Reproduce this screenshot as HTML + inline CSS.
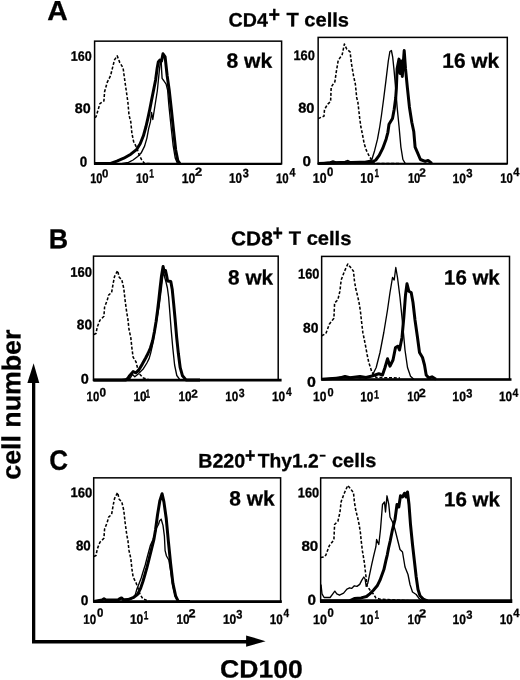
<!DOCTYPE html>
<html lang="en"><head><meta charset="utf-8"><title>CD100 expression</title>
<style>html,body{margin:0;padding:0;background:#fff}body{width:520px;height:680px;overflow:hidden}</style>
</head><body>
<svg width="520" height="680" viewBox="0 0 520 680" style="display:block;will-change:transform" text-rendering="geometricPrecision">
<rect width="520" height="680" fill="#fff"/>
<rect x="94.6" y="41.15" width="187.00000000000003" height="122.65" fill="none" stroke="#000" stroke-width="1.5"/>
<line x1="94.0" y1="163.8" x2="281.6" y2="163.8" stroke="#000" stroke-width="2.3"/>
<polyline points="94.8,117.5 96.0,116.9 98.0,110.3 99.9,103.6 103.9,101.0 104.6,91.7 107.2,82.4 110.5,75.8 112.5,67.9 114.5,59.9 117.2,55.9 119.8,62.6 123.1,67.9 124.5,78.5 126.4,91.7 127.9,102.3 129.0,115.0 130.8,121.9 131.9,133.4 133.6,141.5 136.5,147.3 139.4,155.4 141.7,160.0 144.6,163.6 150.5,163.6" fill="none" stroke="#000" stroke-width="1.55" stroke-linejoin="round" stroke-linecap="butt" stroke-dasharray="3 1.8"/>
<polyline points="112.0,163.6 121.5,163.6 128.5,162.3 133.1,160.0 137.7,156.5 141.1,153.1 144.6,146.1 146.9,138.1 148.6,128.8 150.4,121.9 151.6,112.5 152.8,119.5 154.6,108.0 157.3,91.0 159.0,74.0 160.3,62.0 161.2,60.5 161.6,70.0 162.1,78.4 164.0,81.0 166.1,84.2 167.6,90.0 168.9,105.6 171.0,126.0 173.2,146.0 175.2,158.0 177.5,163.6" fill="none" stroke="#000" stroke-width="1.35" stroke-linejoin="round" stroke-linecap="butt"/>
<polyline points="94.5,163.6 105.0,163.6 110.0,163.6 116.9,161.1 123.8,158.2 130.8,154.2 136.5,149.6 140.2,143.8 143.4,135.8 146.0,126.5 148.1,117.3 149.8,109.2 151.5,100.5 153.6,90.0 155.6,80.0 157.2,68.0 158.3,62.0 159.8,60.1 161.5,61.2 163.0,53.8 165.1,56.9 167.2,76.0 169.3,90.8 171.4,109.8 173.6,131.0 175.7,150.0 177.8,160.6 179.9,163.6" fill="none" stroke="#000" stroke-width="3.0" stroke-linejoin="round" stroke-linecap="butt"/>
<rect x="318.15" y="37.4" width="189.15000000000003" height="126.29999999999998" fill="none" stroke="#000" stroke-width="1.5"/>
<line x1="317.54999999999995" y1="163.7" x2="507.3" y2="163.7" stroke="#000" stroke-width="2.0"/>
<polyline points="318.2,118.6 324.0,116.1 324.5,109.5 327.6,104.2 330.6,101.6 331.2,87.0 334.9,81.7 336.2,72.4 338.2,60.5 342.2,54.6 344.4,44.0 346.8,49.3 350.1,51.9 351.4,63.2 353.4,75.1 355.4,84.4 356.7,97.6 357.9,102.3 359.6,117.3 360.8,126.5 362.5,134.6 364.2,143.8 366.5,150.7 369.4,156.5 371.7,160.0 374.6,163.4 399.0,163.4" fill="none" stroke="#000" stroke-width="1.55" stroke-linejoin="round" stroke-linecap="butt" stroke-dasharray="3 1.8"/>
<polyline points="318.0,163.4 330.0,162.0 333.0,161.0 336.0,162.0 345.0,161.5 348.0,160.5 351.0,162.0 365.0,161.7 371.7,160.0 374.6,150.7 377.5,139.2 379.8,126.5 381.5,115.0 383.5,100.0 386.0,80.2 388.3,61.0 389.9,51.5 391.4,50.5 392.7,57.2 394.1,70.6 395.6,87.8 397.1,106.9 399.0,126.0 400.9,147.1 402.9,159.5 405.2,163.4" fill="none" stroke="#000" stroke-width="1.35" stroke-linejoin="round" stroke-linecap="butt"/>
<polyline points="318.0,163.4 360.0,162.2 368.0,162.0 373.0,161.5 375.8,160.0 379.2,155.4 382.7,148.4 386.1,139.2 387.9,132.3 389.0,124.2 392.5,118.5 394.2,109.2 395.7,98.0 396.4,87.8 397.1,68.7 399.0,59.1 400.0,73.5 401.3,61.0 402.3,76.4 404.2,50.5 405.5,68.7 407.4,87.8 409.4,106.9 411.8,122.2 413.8,131.8 415.1,147.1 417.6,152.8 420.4,159.5 425.2,161.4 428.1,160.5 431.9,163.4" fill="none" stroke="#000" stroke-width="3.0" stroke-linejoin="round" stroke-linecap="butt"/>
<rect x="93.5" y="256.15" width="184.7" height="124.05000000000001" fill="none" stroke="#000" stroke-width="1.5"/>
<line x1="92.9" y1="380.2" x2="281.59999999999997" y2="380.2" stroke="#000" stroke-width="2.7"/>
<polyline points="93.8,334.5 96.0,333.5 97.3,326.9 99.9,320.3 103.9,316.3 104.6,307.0 107.2,300.4 108.6,295.1 111.6,292.5 113.2,283.2 114.5,276.6 117.6,270.6 119.2,277.2 121.8,279.9 123.8,288.5 125.1,300.4 126.7,312.3 127.9,319.2 129.0,329.5 130.8,337.6 131.9,348.0 133.1,357.2 136.0,361.8 137.7,368.7 140.0,374.5 143.4,378.0 150.0,379.9" fill="none" stroke="#000" stroke-width="1.55" stroke-linejoin="round" stroke-linecap="butt" stroke-dasharray="3 1.8"/>
<polyline points="120.0,379.9 130.0,378.5 132.5,374.5 134.8,376.8 138.8,373.4 143.4,368.7 146.9,363.0 149.2,358.4 150.8,352.6 152.7,344.0 155.7,326.0 159.0,307.0 161.2,290.0 162.7,277.0 163.6,271.0 164.6,277.0 166.0,282.0 167.4,288.0 168.6,297.0 169.8,312.0 171.2,330.0 172.8,348.0 174.6,365.0 176.8,375.5 180.0,379.9" fill="none" stroke="#000" stroke-width="1.35" stroke-linejoin="round" stroke-linecap="butt"/>
<polyline points="93.8,379.9 126.0,379.9 128.0,378.0 129.6,375.7 133.1,371.6 136.0,372.8 138.8,369.9 142.3,364.1 145.8,357.8 148.0,353.5 150.4,348.0 152.7,340.5 154.4,331.8 156.1,321.5 157.5,311.0 158.8,300.0 160.1,288.0 161.5,276.0 163.1,266.5 164.3,272.0 165.5,270.5 166.5,275.0 167.6,281.0 170.8,281.5 172.2,289.2 173.6,303.1 175.1,319.2 176.7,337.7 178.4,353.8 180.2,367.7 182.5,375.8 186.0,379.9 200.0,379.9" fill="none" stroke="#000" stroke-width="3.0" stroke-linejoin="round" stroke-linecap="butt"/>
<rect x="321.65" y="256.4" width="187.85000000000002" height="123.10000000000002" fill="none" stroke="#000" stroke-width="1.5"/>
<line x1="321.04999999999995" y1="379.5" x2="511.5" y2="379.5" stroke="#000" stroke-width="2.6"/>
<polyline points="321.7,335.8 325.9,333.5 329.3,324.2 333.9,318.3 334.6,303.0 337.9,299.7 339.9,291.1 341.2,279.9 344.5,271.2 347.8,264.0 350.5,267.3 353.5,271.2 354.4,280.5 355.7,288.5 357.7,296.4 359.1,303.0 360.4,311.0 361.4,320.3 362.8,332.2 364.4,340.1 365.7,346.7 367.2,355.0 368.8,362.5 372.0,372.5 376.2,377.5 400.0,378.0" fill="none" stroke="#000" stroke-width="1.55" stroke-linejoin="round" stroke-linecap="butt" stroke-dasharray="3 1.8"/>
<polyline points="321.8,379.2 335.0,378.0 340.0,376.8 345.0,378.0 355.0,377.0 360.0,378.0 368.0,377.0 372.5,375.0 376.2,367.5 380.0,352.5 383.8,332.5 387.5,310.0 390.0,292.5 392.5,277.5 394.2,280.0 395.8,267.5 397.5,277.5 400.0,297.5 402.5,322.5 405.0,350.0 407.5,367.5 410.5,376.2 413.8,379.2" fill="none" stroke="#000" stroke-width="1.35" stroke-linejoin="round" stroke-linecap="butt"/>
<polyline points="321.8,379.2 340.0,378.0 345.0,376.5 350.0,377.8 360.0,376.5 366.0,377.5 372.0,376.0 378.8,373.8 382.5,375.0 385.0,367.5 387.5,358.8 390.0,366.2 393.0,360.0 395.5,347.5 398.0,346.2 399.5,350.0 402.0,337.5 403.8,317.5 405.5,295.0 407.0,283.8 408.8,291.2 411.2,292.5 413.0,302.5 415.0,320.0 417.5,337.5 419.5,352.5 422.5,357.5 424.5,365.0 426.2,375.0 428.8,378.0 432.0,376.8 436.0,379.2" fill="none" stroke="#000" stroke-width="3.0" stroke-linejoin="round" stroke-linecap="butt"/>
<rect x="93.7" y="477.85" width="186.90000000000003" height="123.75" fill="none" stroke="#000" stroke-width="1.5"/>
<line x1="93.10000000000001" y1="601.6" x2="281.8" y2="601.6" stroke="#000" stroke-width="2.7"/>
<polyline points="93.9,556.5 96.0,555.5 97.3,548.9 99.9,542.3 103.9,538.3 104.6,529.0 107.2,522.4 108.6,517.1 111.6,514.5 113.2,505.2 114.5,498.6 117.6,492.6 119.2,499.2 121.8,501.9 123.8,510.5 125.1,522.4 126.7,534.3 127.9,540.5 129.0,550.4 130.8,558.5 131.9,568.8 133.1,576.9 136.0,582.7 137.7,587.3 140.0,594.2 142.9,598.8 149.5,601.4" fill="none" stroke="#000" stroke-width="1.55" stroke-linejoin="round" stroke-linecap="butt" stroke-dasharray="3 1.8"/>
<polyline points="125.0,601.4 131.0,599.0 134.8,596.5 136.7,589.6 139.0,583.8 141.2,578.0 143.3,571.0 145.2,565.0 147.0,558.0 148.6,552.0 150.5,545.0 152.8,540.0 154.8,534.4 156.5,528.0 158.5,524.5 159.5,521.0 161.2,519.1 162.0,522.0 163.0,525.4 164.4,536.2 165.1,550.7 166.5,556.0 168.8,560.0 170.8,572.0 172.8,586.0 175.5,597.0 178.0,601.4" fill="none" stroke="#000" stroke-width="1.35" stroke-linejoin="round" stroke-linecap="butt"/>
<polyline points="93.8,601.4 102.0,600.0 104.0,598.8 106.0,600.0 118.0,600.0 120.0,598.6 121.5,597.9 123.5,599.8 128.0,599.6 133.1,597.7 137.7,594.2 140.6,588.4 142.9,581.5 144.6,575.8 146.9,567.7 149.2,558.5 151.5,549.2 153.8,540.0 155.5,530.0 157.5,515.0 159.8,501.0 162.1,493.8 163.9,501.9 166.2,518.2 168.4,541.7 170.6,563.4 172.9,583.3 175.6,595.9 178.3,601.4 190.0,601.4" fill="none" stroke="#000" stroke-width="3.0" stroke-linejoin="round" stroke-linecap="butt"/>
<rect x="320.65" y="477.9" width="190.45000000000005" height="123.30000000000007" fill="none" stroke="#000" stroke-width="1.5"/>
<line x1="320.04999999999995" y1="601.2" x2="512.3000000000001" y2="601.2" stroke="#000" stroke-width="3.7"/>
<polyline points="320.7,557.6 324.3,557.0 325.9,555.0 329.3,545.7 333.9,539.8 334.6,524.5 337.9,521.2 339.9,512.6 341.2,501.4 344.5,492.7 347.8,485.4 350.5,488.8 353.5,492.7 354.4,502.0 355.7,510.0 357.7,517.9 359.1,524.5 360.4,532.5 361.1,540.0 362.4,550.8 364.4,562.9 365.8,575.0 367.1,585.8 369.8,589.8 373.2,593.8 375.9,597.9 379.9,599.2 388.0,599.6 415.0,601.0" fill="none" stroke="#000" stroke-width="1.55" stroke-linejoin="round" stroke-linecap="butt" stroke-dasharray="3 1.8"/>
<polyline points="321.0,584.5 322.0,593.8 324.1,597.5 330.1,597.5 332.8,593.8 334.8,591.1 336.8,593.8 339.5,595.2 343.6,593.2 346.9,589.1 349.6,587.8 351.6,588.4 354.3,585.8 357.0,586.4 359.7,584.4 361.7,580.4 363.8,577.0 365.1,579.0 366.2,586.4 367.8,583.1 369.8,573.6 371.8,564.2 373.9,554.8 375.9,546.7 376.6,539.5 378.8,544.5 380.5,529.5 382.5,504.5 384.5,502.0 385.5,512.0 387.0,495.8 388.8,504.5 390.0,517.0 392.5,522.0 395.0,529.5 397.5,539.5 400.0,549.5 402.5,552.0 405.0,567.0 408.0,574.5 410.0,584.5 412.5,592.0 416.2,594.5 418.8,598.2 422.5,601.0" fill="none" stroke="#000" stroke-width="1.35" stroke-linejoin="round" stroke-linecap="butt"/>
<polyline points="320.5,601.0 349.0,601.0 354.3,598.6 361.1,597.9 366.5,596.5 369.8,593.8 373.2,590.5 377.2,585.8 379.9,580.4 381.9,575.0 383.9,569.6 386.0,560.2 387.3,554.8 388.6,548.0 390.2,541.0 392.5,529.5 395.0,519.5 397.0,504.5 398.8,507.0 400.5,495.8 402.5,497.0 404.5,493.2 406.0,497.0 407.5,492.0 409.0,504.5 410.5,524.5 412.5,544.5 414.5,562.0 416.2,577.0 418.0,589.5 420.0,595.8 423.8,599.5 427.5,601.0" fill="none" stroke="#000" stroke-width="3.0" stroke-linejoin="round" stroke-linecap="butt"/>
<text transform="translate(47.29,19.97) rotate(0.1) scale(1.0517,1.0221)" font-family='"Liberation Sans", sans-serif' font-size="27" font-weight="bold" fill="#000" stroke="#000" stroke-width="0.3">A</text>
<text transform="translate(48.87,248.23) rotate(0.1) scale(0.9937,1.0100)" font-family='"Liberation Sans", sans-serif' font-size="27" font-weight="bold" fill="#000" stroke="#000" stroke-width="0.3">B</text>
<text transform="translate(49.24,469.77) rotate(0.1) scale(0.9629,1.0357)" font-family='"Liberation Sans", sans-serif' font-size="27" font-weight="bold" fill="#000" stroke="#000" stroke-width="0.3">C</text>
<text transform="translate(228.59,26.46) rotate(0.1) scale(1.0007,0.9896)" font-family='"Liberation Sans", sans-serif' font-size="19.6" font-weight="bold" fill="#000" stroke="#000" stroke-width="0.3">CD4</text>
<text transform="translate(268.42,21.63) rotate(0.1) scale(1.0315,1.1445)" font-family='"Liberation Sans", sans-serif' font-size="19" font-weight="bold" fill="#000" stroke="#000" stroke-width="0.3">+</text>
<text transform="translate(286.53,26.32) rotate(0.1) scale(1.0235,0.9858)" font-family='"Liberation Sans", sans-serif' font-size="19.6" font-weight="bold" fill="#000" stroke="#000" stroke-width="0.3">T cells</text>
<text transform="translate(231.07,245.20) rotate(0.1) scale(1.0638,1.0153)" font-family='"Liberation Sans", sans-serif' font-size="19.6" font-weight="bold" fill="#000" stroke="#000" stroke-width="0.3">CD8</text>
<text transform="translate(272.53,240.27) rotate(0.1) scale(0.9246,1.1517)" font-family='"Liberation Sans", sans-serif' font-size="19" font-weight="bold" fill="#000" stroke="#000" stroke-width="0.3">+</text>
<text transform="translate(288.80,244.82) rotate(0.1) scale(1.0257,0.9911)" font-family='"Liberation Sans", sans-serif' font-size="19.6" font-weight="bold" fill="#000" stroke="#000" stroke-width="0.3">T cells</text>
<text transform="translate(198.24,467.50) rotate(0.1) scale(1.0022,1.0014)" font-family='"Liberation Sans", sans-serif' font-size="19.6" font-weight="bold" fill="#000" stroke="#000" stroke-width="0.3">B220</text>
<text transform="translate(244.97,462.55) rotate(0.1) scale(0.9389,1.1091)" font-family='"Liberation Sans", sans-serif' font-size="19" font-weight="bold" fill="#000" stroke="#000" stroke-width="0.3">+</text>
<text transform="translate(257.71,467.29) rotate(0.1) scale(0.9826,0.9923)" font-family='"Liberation Sans", sans-serif' font-size="19.6" font-weight="bold" fill="#000" stroke="#000" stroke-width="0.3">Thy1.2</text>
<text transform="translate(319.43,460.02) rotate(0.1) scale(0.8945,1.0793)" font-family='"Liberation Sans", sans-serif' font-size="12" font-weight="bold" fill="#000" stroke="#000" stroke-width="0.3">−</text>
<text transform="translate(331.94,466.99) rotate(0.1) scale(1.0182,0.9932)" font-family='"Liberation Sans", sans-serif' font-size="19.6" font-weight="bold" fill="#000" stroke="#000" stroke-width="0.3">cells</text>
<text transform="translate(226.42,67.80) rotate(0.1) scale(1.0034,0.9848)" font-family='"Liberation Sans", sans-serif' font-size="21" font-weight="bold" fill="#000" stroke="#000" stroke-width="0.3">8 wk</text>
<text transform="translate(442.34,67.75) rotate(0.1) scale(0.9943,0.9833)" font-family='"Liberation Sans", sans-serif' font-size="21" font-weight="bold" fill="#000" stroke="#000" stroke-width="0.3">16 wk</text>
<text transform="translate(228.10,284.45) rotate(0.1) scale(0.9865,0.9874)" font-family='"Liberation Sans", sans-serif' font-size="21" font-weight="bold" fill="#000" stroke="#000" stroke-width="0.3">8 wk</text>
<text transform="translate(444.02,284.39) rotate(0.1) scale(0.9738,0.9853)" font-family='"Liberation Sans", sans-serif' font-size="21" font-weight="bold" fill="#000" stroke="#000" stroke-width="0.3">16 wk</text>
<text transform="translate(229.26,505.55) rotate(0.1) scale(0.9953,0.9870)" font-family='"Liberation Sans", sans-serif' font-size="21" font-weight="bold" fill="#000" stroke="#000" stroke-width="0.3">8 wk</text>
<text transform="translate(444.01,506.19) rotate(0.1) scale(0.9757,0.9765)" font-family='"Liberation Sans", sans-serif' font-size="21" font-weight="bold" fill="#000" stroke="#000" stroke-width="0.3">16 wk</text>
<text transform="translate(70.77,60.67) rotate(0.1) scale(0.8971,0.9751)" font-family='"Liberation Sans", sans-serif' font-size="14" font-weight="bold" fill="#000" stroke="#000" stroke-width="0.3">160</text>
<text transform="translate(74.83,112.96) rotate(0.1) scale(1.0195,0.9922)" font-family='"Liberation Sans", sans-serif' font-size="14" font-weight="bold" fill="#000" stroke="#000" stroke-width="0.3">80</text>
<text transform="translate(79.66,166.62) rotate(0.1) scale(0.9542,1.0137)" font-family='"Liberation Sans", sans-serif' font-size="14" font-weight="bold" fill="#000" stroke="#000" stroke-width="0.3">0</text>
<text transform="translate(293.40,59.92) rotate(0.1) scale(0.9137,0.9839)" font-family='"Liberation Sans", sans-serif' font-size="14" font-weight="bold" fill="#000" stroke="#000" stroke-width="0.3">160</text>
<text transform="translate(298.24,112.62) rotate(0.1) scale(1.0419,0.9964)" font-family='"Liberation Sans", sans-serif' font-size="14" font-weight="bold" fill="#000" stroke="#000" stroke-width="0.3">80</text>
<text transform="translate(302.60,165.99) rotate(0.1) scale(1.0849,1.0144)" font-family='"Liberation Sans", sans-serif' font-size="14" font-weight="bold" fill="#000" stroke="#000" stroke-width="0.3">0</text>
<text transform="translate(70.27,276.69) rotate(0.1) scale(0.9315,0.9934)" font-family='"Liberation Sans", sans-serif' font-size="14" font-weight="bold" fill="#000" stroke="#000" stroke-width="0.3">160</text>
<text transform="translate(76.81,329.20) rotate(0.1) scale(0.9774,0.9868)" font-family='"Liberation Sans", sans-serif' font-size="14" font-weight="bold" fill="#000" stroke="#000" stroke-width="0.3">80</text>
<text transform="translate(80.81,383.48) rotate(0.1) scale(1.0319,0.9884)" font-family='"Liberation Sans", sans-serif' font-size="14" font-weight="bold" fill="#000" stroke="#000" stroke-width="0.3">0</text>
<text transform="translate(298.09,278.52) rotate(0.1) scale(0.9153,0.9993)" font-family='"Liberation Sans", sans-serif' font-size="14" font-weight="bold" fill="#000" stroke="#000" stroke-width="0.3">160</text>
<text transform="translate(303.11,332.53) rotate(0.1) scale(0.9919,0.9873)" font-family='"Liberation Sans", sans-serif' font-size="14" font-weight="bold" fill="#000" stroke="#000" stroke-width="0.3">80</text>
<text transform="translate(307.08,386.76) rotate(0.1) scale(1.1379,1.0151)" font-family='"Liberation Sans", sans-serif' font-size="14" font-weight="bold" fill="#000" stroke="#000" stroke-width="0.3">0</text>
<text transform="translate(70.38,497.12) rotate(0.1) scale(0.9360,0.9787)" font-family='"Liberation Sans", sans-serif' font-size="14" font-weight="bold" fill="#000" stroke="#000" stroke-width="0.3">160</text>
<text transform="translate(75.90,550.24) rotate(0.1) scale(0.9506,0.9868)" font-family='"Liberation Sans", sans-serif' font-size="14" font-weight="bold" fill="#000" stroke="#000" stroke-width="0.3">80</text>
<text transform="translate(80.66,604.89) rotate(0.1) scale(0.9801,0.9916)" font-family='"Liberation Sans", sans-serif' font-size="14" font-weight="bold" fill="#000" stroke="#000" stroke-width="0.3">0</text>
<text transform="translate(297.84,497.14) rotate(0.1) scale(0.9125,0.9823)" font-family='"Liberation Sans", sans-serif' font-size="14" font-weight="bold" fill="#000" stroke="#000" stroke-width="0.3">160</text>
<text transform="translate(301.39,550.80) rotate(0.1) scale(1.0790,1.0088)" font-family='"Liberation Sans", sans-serif' font-size="14" font-weight="bold" fill="#000" stroke="#000" stroke-width="0.3">80</text>
<text transform="translate(307.45,604.68) rotate(0.1) scale(1.0871,1.0232)" font-family='"Liberation Sans", sans-serif' font-size="14" font-weight="bold" fill="#000" stroke="#000" stroke-width="0.3">0</text>
<text transform="translate(90.18,182.90) rotate(0.1) scale(0.7873,0.9906)" font-family='"Liberation Sans", sans-serif' font-size="14" font-weight="bold" fill="#000" stroke="#000" stroke-width="0.3">10</text>
<text transform="translate(101.92,177.39) rotate(0.1) scale(0.9892,1.0164)" font-family='"Liberation Sans", sans-serif' font-size="11.5" font-weight="bold" fill="#000" stroke="#000" stroke-width="0.3">0</text>
<text transform="translate(136.02,182.69) rotate(0.1) scale(0.8122,0.9670)" font-family='"Liberation Sans", sans-serif' font-size="14" font-weight="bold" fill="#000" stroke="#000" stroke-width="0.3">10</text>
<text transform="translate(149.34,177.47) rotate(0.1) scale(0.7304,1.0535)" font-family='"Liberation Sans", sans-serif' font-size="11.5" font-weight="bold" fill="#000" stroke="#000" stroke-width="0.3">1</text>
<text transform="translate(181.66,182.89) rotate(0.1) scale(0.8678,0.9915)" font-family='"Liberation Sans", sans-serif' font-size="14" font-weight="bold" fill="#000" stroke="#000" stroke-width="0.3">10</text>
<text transform="translate(195.08,175.71) rotate(0.1) scale(1.1187,1.0198)" font-family='"Liberation Sans", sans-serif' font-size="11.5" font-weight="bold" fill="#000" stroke="#000" stroke-width="0.3">2</text>
<text transform="translate(228.98,182.72) rotate(0.1) scale(0.8352,0.9987)" font-family='"Liberation Sans", sans-serif' font-size="14" font-weight="bold" fill="#000" stroke="#000" stroke-width="0.3">10</text>
<text transform="translate(242.76,177.20) rotate(0.1) scale(0.9458,1.0729)" font-family='"Liberation Sans", sans-serif' font-size="11.5" font-weight="bold" fill="#000" stroke="#000" stroke-width="0.3">3</text>
<text transform="translate(275.98,183.01) rotate(0.1) scale(0.8173,0.9935)" font-family='"Liberation Sans", sans-serif' font-size="14" font-weight="bold" fill="#000" stroke="#000" stroke-width="0.3">10</text>
<text transform="translate(289.51,176.17) rotate(0.1) scale(0.9219,1.0389)" font-family='"Liberation Sans", sans-serif' font-size="11.5" font-weight="bold" fill="#000" stroke="#000" stroke-width="0.3">4</text>
<text transform="translate(312.85,182.81) rotate(0.1) scale(0.8738,0.9960)" font-family='"Liberation Sans", sans-serif' font-size="14" font-weight="bold" fill="#000" stroke="#000" stroke-width="0.3">10</text>
<text transform="translate(326.93,175.92) rotate(0.1) scale(0.9856,1.0568)" font-family='"Liberation Sans", sans-serif' font-size="11.5" font-weight="bold" fill="#000" stroke="#000" stroke-width="0.3">0</text>
<text transform="translate(360.34,182.81) rotate(0.1) scale(0.8399,0.9899)" font-family='"Liberation Sans", sans-serif' font-size="14" font-weight="bold" fill="#000" stroke="#000" stroke-width="0.3">10</text>
<text transform="translate(374.45,176.93) rotate(0.1) scale(0.7090,1.0132)" font-family='"Liberation Sans", sans-serif' font-size="11.5" font-weight="bold" fill="#000" stroke="#000" stroke-width="0.3">1</text>
<text transform="translate(407.90,182.80) rotate(0.1) scale(0.7963,0.9840)" font-family='"Liberation Sans", sans-serif' font-size="14" font-weight="bold" fill="#000" stroke="#000" stroke-width="0.3">10</text>
<text transform="translate(419.24,176.59) rotate(0.1) scale(1.0252,1.0245)" font-family='"Liberation Sans", sans-serif' font-size="11.5" font-weight="bold" fill="#000" stroke="#000" stroke-width="0.3">2</text>
<text transform="translate(452.44,182.95) rotate(0.1) scale(0.8610,0.9645)" font-family='"Liberation Sans", sans-serif' font-size="14" font-weight="bold" fill="#000" stroke="#000" stroke-width="0.3">10</text>
<text transform="translate(466.31,177.21) rotate(0.1) scale(0.9845,1.0511)" font-family='"Liberation Sans", sans-serif' font-size="11.5" font-weight="bold" fill="#000" stroke="#000" stroke-width="0.3">3</text>
<text transform="translate(500.21,182.85) rotate(0.1) scale(0.8102,0.9733)" font-family='"Liberation Sans", sans-serif' font-size="14" font-weight="bold" fill="#000" stroke="#000" stroke-width="0.3">10</text>
<text transform="translate(513.14,175.88) rotate(0.1) scale(0.9693,1.0389)" font-family='"Liberation Sans", sans-serif' font-size="11.5" font-weight="bold" fill="#000" stroke="#000" stroke-width="0.3">4</text>
<text transform="translate(86.62,401.09) rotate(0.1) scale(0.8054,0.9574)" font-family='"Liberation Sans", sans-serif' font-size="14" font-weight="bold" fill="#000" stroke="#000" stroke-width="0.3">10</text>
<text transform="translate(99.60,396.40) rotate(0.1) scale(1.0221,1.0575)" font-family='"Liberation Sans", sans-serif' font-size="11.5" font-weight="bold" fill="#000" stroke="#000" stroke-width="0.3">0</text>
<text transform="translate(133.62,400.95) rotate(0.1) scale(0.8354,0.9618)" font-family='"Liberation Sans", sans-serif' font-size="14" font-weight="bold" fill="#000" stroke="#000" stroke-width="0.3">10</text>
<text transform="translate(145.47,397.87) rotate(0.1) scale(0.7163,1.0097)" font-family='"Liberation Sans", sans-serif' font-size="11.5" font-weight="bold" fill="#000" stroke="#000" stroke-width="0.3">1</text>
<text transform="translate(178.62,400.95) rotate(0.1) scale(0.8354,0.9618)" font-family='"Liberation Sans", sans-serif' font-size="14" font-weight="bold" fill="#000" stroke="#000" stroke-width="0.3">10</text>
<text transform="translate(191.35,397.61) rotate(0.1) scale(1.0209,0.9901)" font-family='"Liberation Sans", sans-serif' font-size="11.5" font-weight="bold" fill="#000" stroke="#000" stroke-width="0.3">2</text>
<text transform="translate(225.33,401.02) rotate(0.1) scale(0.8352,0.9681)" font-family='"Liberation Sans", sans-serif' font-size="14" font-weight="bold" fill="#000" stroke="#000" stroke-width="0.3">10</text>
<text transform="translate(238.85,396.90) rotate(0.1) scale(0.9108,1.0341)" font-family='"Liberation Sans", sans-serif' font-size="11.5" font-weight="bold" fill="#000" stroke="#000" stroke-width="0.3">3</text>
<text transform="translate(272.01,400.95) rotate(0.1) scale(0.8472,0.9691)" font-family='"Liberation Sans", sans-serif' font-size="14" font-weight="bold" fill="#000" stroke="#000" stroke-width="0.3">10</text>
<text transform="translate(285.88,395.78) rotate(0.1) scale(0.8937,1.0135)" font-family='"Liberation Sans", sans-serif' font-size="11.5" font-weight="bold" fill="#000" stroke="#000" stroke-width="0.3">4</text>
<text transform="translate(313.10,401.07) rotate(0.1) scale(0.8548,0.9586)" font-family='"Liberation Sans", sans-serif' font-size="14" font-weight="bold" fill="#000" stroke="#000" stroke-width="0.3">10</text>
<text transform="translate(327.52,396.34) rotate(0.1) scale(0.9555,1.0243)" font-family='"Liberation Sans", sans-serif' font-size="11.5" font-weight="bold" fill="#000" stroke="#000" stroke-width="0.3">0</text>
<text transform="translate(360.22,401.15) rotate(0.1) scale(0.8441,0.9595)" font-family='"Liberation Sans", sans-serif' font-size="14" font-weight="bold" fill="#000" stroke="#000" stroke-width="0.3">10</text>
<text transform="translate(373.97,398.55) rotate(0.1) scale(0.7817,1.0383)" font-family='"Liberation Sans", sans-serif' font-size="11.5" font-weight="bold" fill="#000" stroke="#000" stroke-width="0.3">1</text>
<text transform="translate(407.16,401.04) rotate(0.1) scale(0.8149,0.9644)" font-family='"Liberation Sans", sans-serif' font-size="14" font-weight="bold" fill="#000" stroke="#000" stroke-width="0.3">10</text>
<text transform="translate(418.66,397.08) rotate(0.1) scale(1.0972,1.0275)" font-family='"Liberation Sans", sans-serif' font-size="11.5" font-weight="bold" fill="#000" stroke="#000" stroke-width="0.3">2</text>
<text transform="translate(452.37,400.98) rotate(0.1) scale(0.8679,0.9559)" font-family='"Liberation Sans", sans-serif' font-size="14" font-weight="bold" fill="#000" stroke="#000" stroke-width="0.3">10</text>
<text transform="translate(466.28,397.59) rotate(0.1) scale(0.9583,1.0590)" font-family='"Liberation Sans", sans-serif' font-size="11.5" font-weight="bold" fill="#000" stroke="#000" stroke-width="0.3">3</text>
<text transform="translate(499.01,400.95) rotate(0.1) scale(0.8472,0.9691)" font-family='"Liberation Sans", sans-serif' font-size="14" font-weight="bold" fill="#000" stroke="#000" stroke-width="0.3">10</text>
<text transform="translate(512.59,396.66) rotate(0.1) scale(0.9113,1.0285)" font-family='"Liberation Sans", sans-serif' font-size="11.5" font-weight="bold" fill="#000" stroke="#000" stroke-width="0.3">4</text>
<text transform="translate(83.32,623.87) rotate(0.1) scale(0.8252,0.9639)" font-family='"Liberation Sans", sans-serif' font-size="14" font-weight="bold" fill="#000" stroke="#000" stroke-width="0.3">10</text>
<text transform="translate(97.09,616.67) rotate(0.1) scale(0.9940,1.0503)" font-family='"Liberation Sans", sans-serif' font-size="11.5" font-weight="bold" fill="#000" stroke="#000" stroke-width="0.3">0</text>
<text transform="translate(129.91,623.86) rotate(0.1) scale(0.8622,0.9691)" font-family='"Liberation Sans", sans-serif' font-size="14" font-weight="bold" fill="#000" stroke="#000" stroke-width="0.3">10</text>
<text transform="translate(143.68,619.20) rotate(0.1) scale(0.7197,1.0332)" font-family='"Liberation Sans", sans-serif' font-size="11.5" font-weight="bold" fill="#000" stroke="#000" stroke-width="0.3">1</text>
<text transform="translate(176.62,623.85) rotate(0.1) scale(0.8338,0.9680)" font-family='"Liberation Sans", sans-serif' font-size="14" font-weight="bold" fill="#000" stroke="#000" stroke-width="0.3">10</text>
<text transform="translate(188.48,617.26) rotate(0.1) scale(1.1084,1.0143)" font-family='"Liberation Sans", sans-serif' font-size="11.5" font-weight="bold" fill="#000" stroke="#000" stroke-width="0.3">2</text>
<text transform="translate(222.91,623.86) rotate(0.1) scale(0.8622,0.9691)" font-family='"Liberation Sans", sans-serif' font-size="14" font-weight="bold" fill="#000" stroke="#000" stroke-width="0.3">10</text>
<text transform="translate(236.28,618.59) rotate(0.1) scale(0.9583,1.0590)" font-family='"Liberation Sans", sans-serif' font-size="11.5" font-weight="bold" fill="#000" stroke="#000" stroke-width="0.3">3</text>
<text transform="translate(269.66,624.09) rotate(0.1) scale(0.8309,0.9848)" font-family='"Liberation Sans", sans-serif' font-size="14" font-weight="bold" fill="#000" stroke="#000" stroke-width="0.3">10</text>
<text transform="translate(283.48,617.12) rotate(0.1) scale(0.8711,1.0164)" font-family='"Liberation Sans", sans-serif' font-size="11.5" font-weight="bold" fill="#000" stroke="#000" stroke-width="0.3">4</text>
<text transform="translate(313.09,623.96) rotate(0.1) scale(0.8879,0.9517)" font-family='"Liberation Sans", sans-serif' font-size="14" font-weight="bold" fill="#000" stroke="#000" stroke-width="0.3">10</text>
<text transform="translate(327.50,616.71) rotate(0.1) scale(0.9795,1.0492)" font-family='"Liberation Sans", sans-serif' font-size="11.5" font-weight="bold" fill="#000" stroke="#000" stroke-width="0.3">0</text>
<text transform="translate(360.06,624.11) rotate(0.1) scale(0.8638,0.9569)" font-family='"Liberation Sans", sans-serif' font-size="14" font-weight="bold" fill="#000" stroke="#000" stroke-width="0.3">10</text>
<text transform="translate(374.45,618.76) rotate(0.1) scale(0.7232,1.0303)" font-family='"Liberation Sans", sans-serif' font-size="11.5" font-weight="bold" fill="#000" stroke="#000" stroke-width="0.3">1</text>
<text transform="translate(407.62,624.04) rotate(0.1) scale(0.8407,0.9632)" font-family='"Liberation Sans", sans-serif' font-size="14" font-weight="bold" fill="#000" stroke="#000" stroke-width="0.3">10</text>
<text transform="translate(418.91,617.20) rotate(0.1) scale(1.1243,1.0032)" font-family='"Liberation Sans", sans-serif' font-size="11.5" font-weight="bold" fill="#000" stroke="#000" stroke-width="0.3">2</text>
<text transform="translate(452.50,624.00) rotate(0.1) scale(0.8601,0.9765)" font-family='"Liberation Sans", sans-serif' font-size="14" font-weight="bold" fill="#000" stroke="#000" stroke-width="0.3">10</text>
<text transform="translate(466.37,618.79) rotate(0.1) scale(0.9676,1.0338)" font-family='"Liberation Sans", sans-serif' font-size="11.5" font-weight="bold" fill="#000" stroke="#000" stroke-width="0.3">3</text>
<text transform="translate(499.66,624.09) rotate(0.1) scale(0.8309,0.9848)" font-family='"Liberation Sans", sans-serif' font-size="14" font-weight="bold" fill="#000" stroke="#000" stroke-width="0.3">10</text>
<text transform="translate(513.14,616.88) rotate(0.1) scale(0.9693,1.0389)" font-family='"Liberation Sans", sans-serif' font-size="11.5" font-weight="bold" fill="#000" stroke="#000" stroke-width="0.3">4</text>
<text transform="translate(220.08,677.55) rotate(0.1) scale(1.0199,0.9586)" font-family='"Liberation Sans", sans-serif' font-size="26" font-weight="bold" fill="#000" stroke="#000" stroke-width="0.3">CD100</text>
<text transform="translate(20.21,479.65) rotate(-89.9) scale(1.0085,0.9877)" font-family='"Liberation Sans", sans-serif' font-size="26.5" font-weight="bold" fill="#000" stroke="#000" stroke-width="0.3">cell number</text>
<polyline points="33.65,381 33.65,641.75 248,641.75" fill="none" stroke="#000" stroke-width="3.3" stroke-linejoin="miter"/>
<polygon points="33.6,363.3 27.4,383.1 39.3,383.1" fill="#000"/>
<polygon points="265.6,641.2 246.1,635.4 246.1,646.8" fill="#000"/>
</svg>
</body></html>
